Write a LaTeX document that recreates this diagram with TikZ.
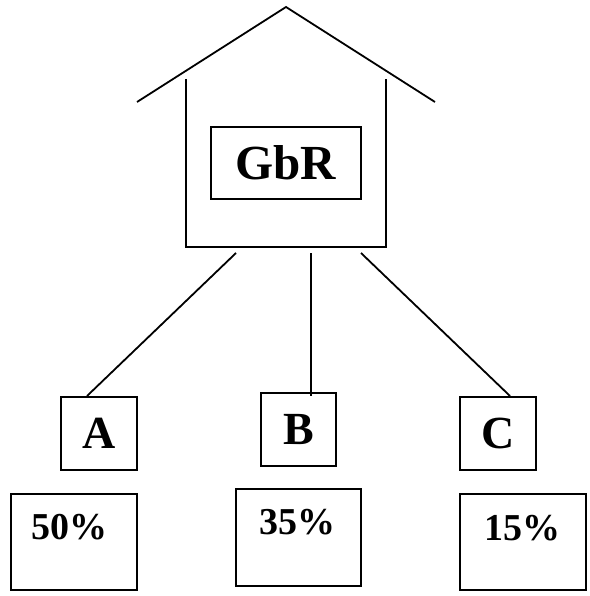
\documentclass[tikz,border=0pt]{standalone}
\usepackage{fontspec}
\setmainfont{Liberation Serif}
\usepackage{tikz}
\usetikzlibrary{positioning}

\begin{document}
\begin{tikzpicture}[x=1pt, y=-1pt,
    box/.style={rectangle, draw, line width=2pt, inner sep=0pt},
    conn/.style={line width=1.8pt},
    letter/.style={font=\fontsize{46}{46}\selectfont\bfseries},
    pct/.style={font=\fontsize{38}{38}\selectfont\bfseries}
]
\useasboundingbox (0,0) rectangle (589,596);

\draw[conn] (137,102) -- (286,7) -- (435,102);
\draw[conn] (186,79) -- (186,247) -- (386,247) -- (386,79);

\node[box, minimum width=150pt, minimum height=72pt, letter, font=\fontsize{49}{49}\selectfont\bfseries] (gbr) at (286,163) {GbR};

\coordinate (ha) at (236,253);
\coordinate (hb) at (311,253);
\coordinate (hc) at (361,253);

\node[box, minimum width=76pt, minimum height=73pt, letter] (a) at (99,433.5) {A};
\node[box, minimum width=75pt, minimum height=73pt, letter] (b) at (298.5,429.5) {B};
\node[box, minimum width=76pt, minimum height=73pt, letter] (c) at (498,433.5) {C};

\node[box, minimum width=126pt, minimum height=96pt] (pa) at (74,542) {};
\node[box, minimum width=125pt, minimum height=97pt] (pb) at (298.5,537.5) {};
\node[box, minimum width=126pt, minimum height=96pt] (pc) at (523,542) {};

\node[pct] (ta) at ([xshift=-5pt, yshift=-34pt]pa.north) {50\%};
\node[pct] (tb) at ([xshift=-1pt, yshift=-34pt]pb.north) {35\%};
\node[pct] (tc) at ([xshift=-1pt, yshift=-35pt]pc.north) {15\%};

\draw[conn] (ha) -- ([xshift=-12pt]a.north);
\draw[conn] (hb) -- ([xshift=12.5pt, yshift=-4pt]b.north);
\draw[conn] (hc) -- ([xshift=12pt]c.north);
\end{tikzpicture}
\end{document}
